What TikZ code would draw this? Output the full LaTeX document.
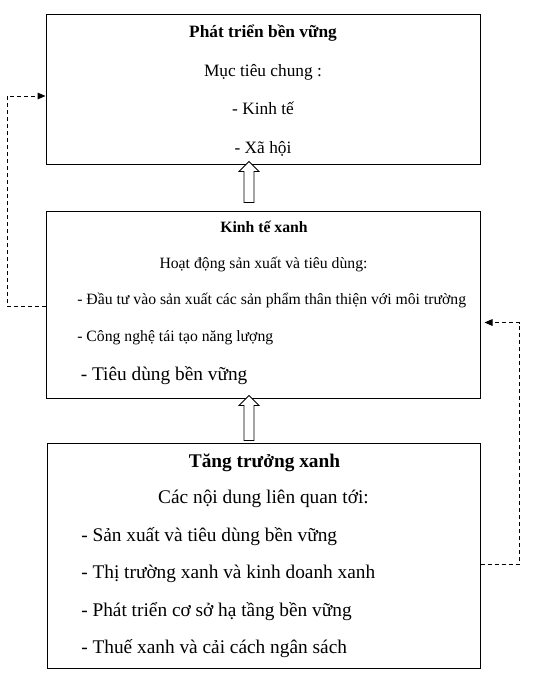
\documentclass[tikz,border=0pt]{standalone}
\usepackage{fontspec}
\setmainfont{Liberation Serif}
\usetikzlibrary{arrows.meta,positioning,calc,shapes.arrows}
\newcommand{\fsMain}{\fontsize{13}{15}\selectfont}
\newcommand{\fsSmall}{\fontsize{11.8}{14}\selectfont}
\newcommand{\fsBig}{\fontsize{14.5}{17}\selectfont}
\tikzset{
    box/.style={draw,line width=0.75pt,inner sep=0pt},
    txt/.style={inner sep=0pt,anchor=base},
    item/.style={inner sep=0pt,anchor=base west},
    hollow/.style={single arrow,draw,line width=0.6pt,fill=white,inner xsep=0pt,
        inner ysep=3.4pt,minimum width=15pt,single arrow head extend=3.75pt,rotate=90},
    link/.style={line width=0.75pt,dash pattern=on 3pt off 2.25pt,
        -{Triangle[length=6pt,width=5pt]}}
}
\begin{document}
\begin{tikzpicture}[x=0.75pt,y=-0.75pt]
  \useasboundingbox (0,0) rectangle (543,675);
  % three stacked boxes
  \node[box,minimum width=325.5pt,minimum height=112.5pt] (b1) at (263,89) {};
  \node[box,minimum width=325.5pt,minimum height=140.25pt] (b2) at (263,304.5) {};
  \node[box,minimum width=324.75pt,minimum height=168.75pt] (b3) at (263.5,555.5) {};
  % top box
  \node[txt,font=\fsMain\bfseries] (t1) at (263,37) {Phát triển bền vững};
  \node[txt,font=\fsMain] (t1a) at (263,76) {Mục tiêu chung :};
  \node[txt,font=\fsMain] (t1b) at (263,114) {- Kinh tế};
  \node[txt,font=\fsMain] (t1c) at (263,153) {- Xã hội};
  % middle box
  \node[txt,font=\fsSmall\bfseries] (t2) at (264,232) {Kinh tế xanh};
  \node[txt,font=\fsSmall] (t2a) at (263.5,268) {Hoạt động sản xuất và tiêu dùng:};
  \node[item,font=\fsSmall] (t2b) at (77,304) {- Đầu tư vào sản xuất các sản phẩm thân thiện với môi trường};
  \node[item,font=\fsSmall] (t2c) at (77,341) {- Công nghệ tái tạo năng lượng};
  \node[item,font=\fsBig] (t2d) at (80.5,380) {- Tiêu dùng bền vững};
  % bottom box
  \node[txt,font=\fsBig\bfseries] (t3) at (264.5,467) {Tăng trưởng xanh};
  \node[txt,font=\fsBig] (t3a) at (263.5,503) {Các nội dung liên quan tới:};
  \node[item,font=\fsBig] (t3b) at (81,541) {- Sản xuất và tiêu dùng bền vững};
  \node[item,font=\fsBig] (t3c) at (81,578) {- Thị trường xanh và kinh doanh xanh};
  \node[item,font=\fsBig] (t3d) at (81,616) {- Phát triển cơ sở hạ tầng bền vững};
  \node[item,font=\fsBig] (t3e) at (81,653) {- Thuế xanh và cải cách ngân sách};
  % hollow arrows between boxes
  \node[hollow,minimum height=30.75pt] (up1) at (249,184.5) {};
  \node[hollow,minimum height=33.75pt] (up2) at (249,420.5) {};
  % dashed feedback links
  \draw[link] ($(b2.west)+(0,2)$) -- ++(-38.5,0) |- ($(b1.west)+(0,7)$);
  \draw[link] ($(b3.east)+(0,8.5)$) -- ++(39,0) |- ($(b2.east)+(4,18)$);
\end{tikzpicture}
\end{document}
